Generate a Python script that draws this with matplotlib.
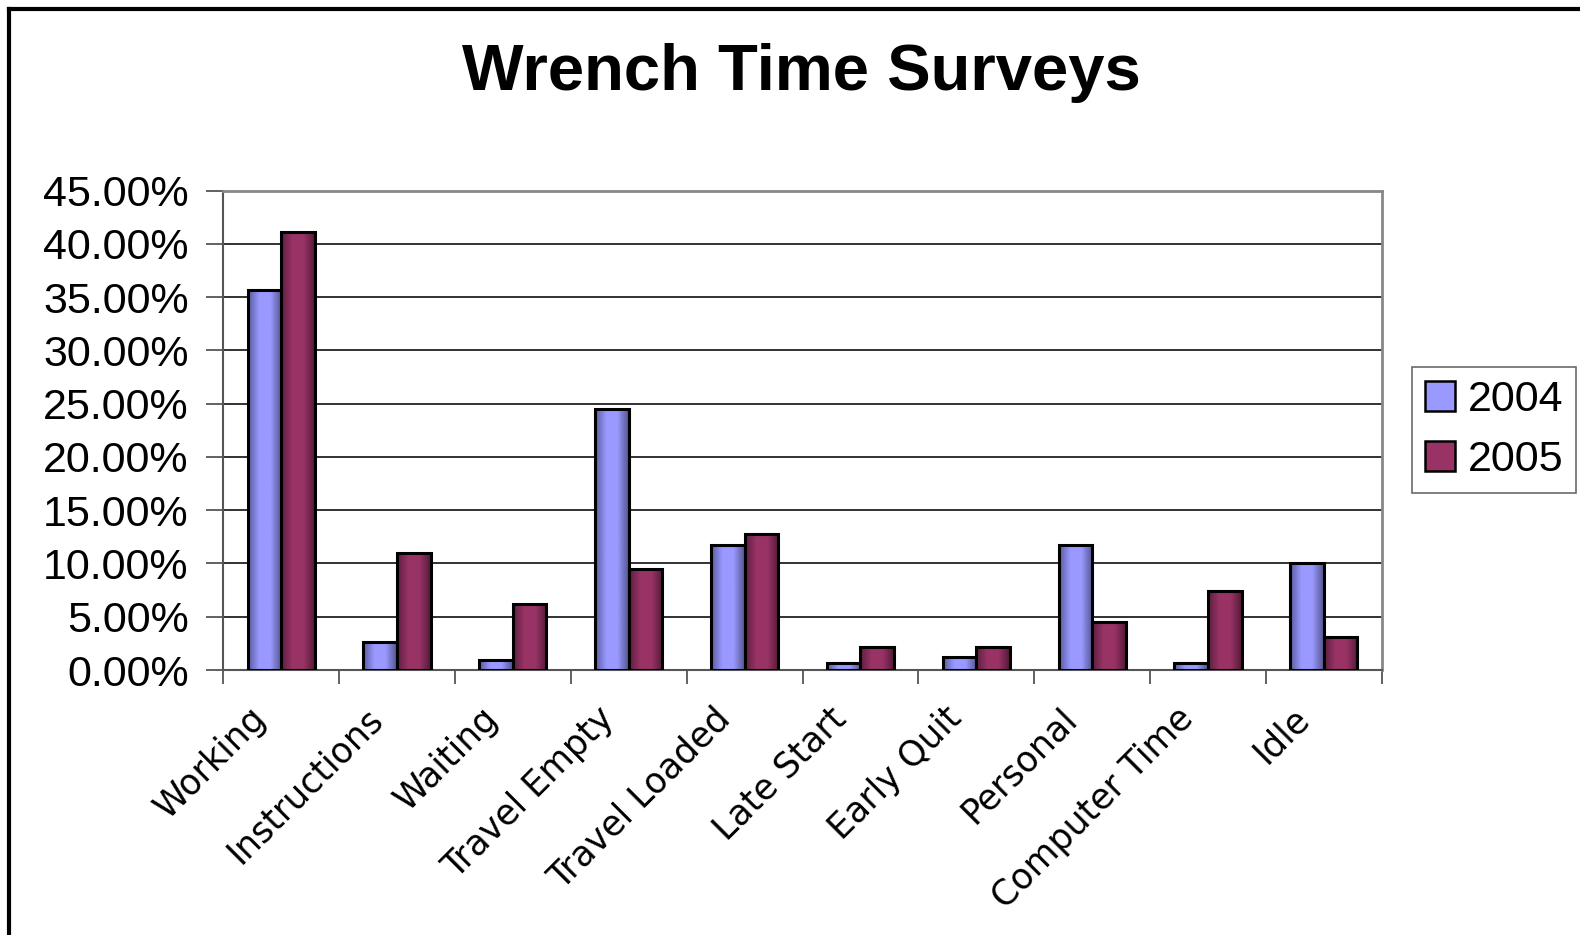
import numpy as np
from matplotlib import pyplot as plt
from matplotlib.lines import Line2D
from matplotlib.patches import Patch
from matplotlib.colors import LinearSegmentedColormap
from matplotlib.transforms import ScaledTranslation

categories = ["Working", "Instructions", "Waiting", "Travel Empty", "Travel Loaded",
              "Late Start", "Early Quit", "Personal", "Computer Time", "Idle"]
y2004 = [35.7, 2.6, 0.9, 24.5, 11.7, 0.7, 1.2, 11.7, 0.7, 10.0]
y2005 = [41.1, 11.0, 6.2, 9.5, 12.8, 2.2, 2.2, 4.5, 7.4, 3.1]
series_names = ["2004", "2005"]
yticks = [0, 5, 10, 15, 20, 25, 30, 35, 40, 45]

W, H = 1580, 935
fig = plt.figure(figsize=(W / 100, H / 100), dpi=100)
ax = fig.add_axes([223.3 / W, 1 - 670 / H, (1381.7 - 223.3) / W, (670 - 190.7) / H])

# horizontal gradients like the old Excel 3D fill
cmaps = [
    LinearSegmentedColormap.from_list("b", ["#5a5a9e", "#9999ff", "#9999ff", "#55558f"]),
    LinearSegmentedColormap.from_list("m", ["#5c1f3f", "#993366", "#993366", "#551a38"]),
]
grad = np.linspace(0, 1, 64).reshape(1, -1)
bw = 0.29
x = np.arange(len(categories)) + 0.5
for k, vals in enumerate([y2004, y2005]):
    xs = x - bw + k * bw
    bars = ax.bar(xs, vals, width=bw, align="edge", facecolor="none",
                  edgecolor="black", linewidth=2.2, zorder=4)
    for b in bars:
        im = ax.imshow(grad, cmap=cmaps[k], aspect="auto", zorder=3,
                       extent=[b.get_x(), b.get_x() + b.get_width(), 0, b.get_height()])
        im.set_clip_path(b)

ax.set_xlim(0, len(categories))
ax.set_ylim(0, 45)
ax.set_yticks(yticks)
ax.set_yticklabels([f"{v:.2f}%" for v in yticks], fontsize=31, family="Liberation Sans")
ax.yaxis.grid(True, color="#222222", linewidth=1.3, zorder=0)
ax.set_axisbelow(True)

# ticks sit between the categories, labels are placed by hand below
ax.set_xticks(np.arange(len(categories) + 1))
ax.set_xticklabels([])
lab_tr = ax.get_xaxis_transform() + ScaledTranslation(-0.32, -0.31, fig.dpi_scale_trans)
for xi, name in zip(x, categories):
    ax.text(xi, 0, name, transform=lab_tr, rotation=45, ha="right", va="top",
            rotation_mode="anchor", fontsize=25, family="DejaVu Sans")
ax.tick_params(axis="x", length=10, width=1.3, color="#555555", direction="out")
ax.tick_params(axis="y", length=12, width=1.3, color="#555555", direction="out", pad=13)

for s in ["top", "right"]:
    ax.spines[s].set_color("#888888")
    ax.spines[s].set_linewidth(2)
ax.spines["left"].set_color("#555555")
ax.spines["left"].set_linewidth(1.5)
ax.spines["bottom"].set_color("#555555")
ax.spines["bottom"].set_linewidth(1.5)

fig.text(801 / W, 1 - 90 / H, "Wrench Time Surveys", ha="center", va="baseline",
         fontsize=47, fontweight="bold", family="Liberation Sans")

handles = [Patch(facecolor="#9999ff", edgecolor="black", linewidth=1.8),
           Patch(facecolor="#993366", edgecolor="black", linewidth=1.8)]
leg = fig.legend(handles, series_names, loc="center", bbox_to_anchor=(1494 / W, 1 - 430 / H),
                 prop={"family": "Liberation Sans", "size": 31}, frameon=True, fancybox=False,
                 handlelength=0.7, handleheight=0.7, handletextpad=0.3, borderpad=0.3,
                 labelspacing=0.45, borderaxespad=0)
leg.get_frame().set_edgecolor("#444444")
leg.get_frame().set_linewidth(1.2)

# outer chart frame (cut at right and bottom in the original)
fig.add_artist(Line2D([8.5 / W, 1], [1 - 9 / H, 1 - 9 / H], color="black", linewidth=3,
                      transform=fig.transFigure))
fig.add_artist(Line2D([9 / W, 9 / W], [0, 1 - 9 / H], color="black", linewidth=3,
                      transform=fig.transFigure))

fig.savefig("out.png", dpi=100)
